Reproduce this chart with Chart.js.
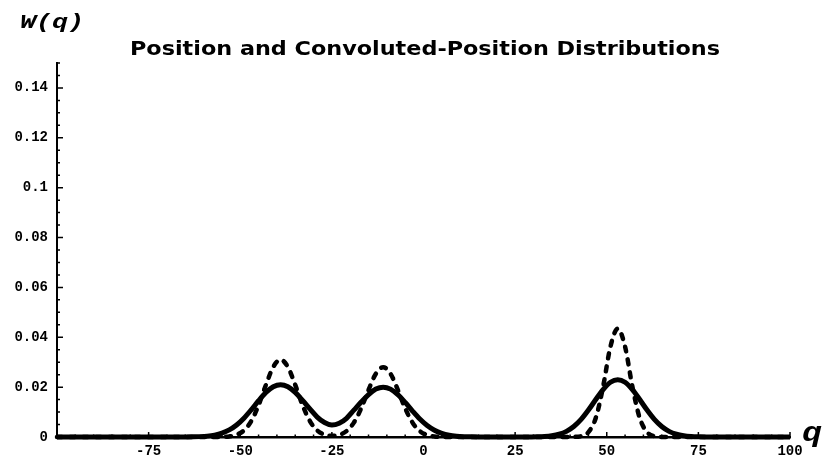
<!DOCTYPE html>
<html>
<head>
<meta charset="utf-8">
<script src="https://cdn.jsdelivr.net/npm/chart.js@4"></script>
<style>
  html, body { margin: 0; padding: 0; background: #fff; }
</style>
</head>
<body>
<canvas id="distChart" width="828" height="459"></canvas>
<script>
// sample positions q
var qValues = [
  -100, -90, -80, -70, -67, -65, -63, -61, -59, -57,
  -55, -53, -51, -49, -47, -45, -43, -41, -39, -37,
  -35, -33, -31, -29, -27, -25, -23, -21, -19, -17,
  -15, -13, -11, -9, -7, -5, -3, -1, 1, 3,
  5, 7, 9, 11, 13, 15, 17, 19, 21, 23,
  25, 27, 29, 31, 33, 35, 37, 39, 41, 43,
  45, 47, 49, 51, 53, 55, 57, 59, 61, 63,
  65, 67, 69, 71, 73, 75, 80, 90, 100
];

// position distribution W(q) (dashed)
var positionW = [
  0, 0, 0, 0, 0, 0, 0, 0, 0, 0.00001,
  0.00006, 0.00024, 0.00089, 0.00263, 0.00639, 0.01274, 0.02089, 0.02809, 0.031, 0.02809,
  0.02089, 0.01274, 0.00639, 0.00264, 0.00094, 0.00046, 0.00086, 0.00238, 0.00577, 0.01151,
  0.01887, 0.02537, 0.028, 0.02537, 0.01887, 0.01151, 0.00577, 0.00237, 0.0008, 0.00022,
  0.00005, 0.00001, 0, 0, 0, 0, 0, 0, 0, 0,
  0, 0, 0, 0, 0, 0, 0, 0, 0.00004, 0.00033,
  0.00194, 0.00761, 0.02015, 0.03621, 0.0435, 0.03621, 0.02015, 0.00761, 0.00194, 0.00033,
  0.00004, 0, 0, 0, 0, 0, 0, 0, 0
];

// convoluted-position distribution (solid)
var convolutedW = [
  0, 0, 0, 0, 0, 0.00002, 0.00006, 0.00015, 0.00035, 0.00077,
  0.00154, 0.00284, 0.00483, 0.00756, 0.01092, 0.01455, 0.01783, 0.02016, 0.021, 0.02018,
  0.01789, 0.01469, 0.01126, 0.0080, 0.0058, 0.0048, 0.0055, 0.0075, 0.01075, 0.01401,
  0.01704, 0.01922, 0.02, 0.0192, 0.01698, 0.01386, 0.0104, 0.0072, 0.0046, 0.0027,
  0.00147, 0.00073, 0.00034, 0.00014, 0.00006, 0.00002, 0, 0, 0, 0,
  0, 0.00001, 0.00003, 0.00007, 0.0002, 0.0005, 0.00111, 0.00226, 0.00419, 0.00704,
  0.01079, 0.01502, 0.01902, 0.02194, 0.023, 0.02194, 0.01902, 0.01502, 0.01079, 0.00704,
  0.00419, 0.00226, 0.00111, 0.0005, 0.0002, 0.00007, 0, 0, 0
];

var xTickValues = [-75, -50, -25, 0, 25, 50, 75, 100];
var yTickValues = [0, 0.02, 0.04, 0.06, 0.08, 0.1, 0.12, 0.14];

var chartTitle = 'Position and Convoluted-Position Distributions';
var yAxisLabel = 'W(q)';
var xAxisLabel = 'q';

function toPoints(ys) {
  return qValues.map(function (q, i) { return { x: q, y: ys[i] }; });
}

// draw text squeezed/stretched to a given width
function fitText(ctx, text, x, y, width) {
  var w = ctx.measureText(text).width;
  ctx.save();
  ctx.translate(x, y);
  ctx.scale(width / w, 1);
  ctx.fillText(text, 0, 0);
  ctx.restore();
}

// inward tick marks plus the title and axis labels
var axisDecor = {
  id: 'axisDecor',
  afterDraw: function (chart) {
    var ctx = chart.ctx;
    var xs = chart.scales.x, ys = chart.scales.y;
    var area = chart.chartArea;
    var v, p, len;

    ctx.save();
    ctx.strokeStyle = '#000';
    ctx.lineWidth = 1.5;
    ctx.beginPath();
    for (v = 0; v <= 30; v++) {
      p = ys.getPixelForValue(v * 0.005);
      len = v % 4 === 0 ? 6 : 3;
      ctx.moveTo(area.left, p);
      ctx.lineTo(area.left + len, p);
    }
    for (v = -20; v <= 20; v++) {
      p = xs.getPixelForValue(v * 5);
      len = v % 5 === 0 ? 5 : 2.5;
      ctx.moveTo(p, area.bottom);
      ctx.lineTo(p, area.bottom - len);
    }
    ctx.stroke();

    ctx.fillStyle = '#000';
    ctx.textBaseline = 'alphabetic';

    ctx.textAlign = 'center';
    ctx.font = 'bold 19px "DejaVu Sans", sans-serif';
    fitText(ctx, chartTitle, 425, 55, 590);

    ctx.textAlign = 'left';
    ctx.font = 'bold italic 21px "Liberation Mono", monospace';
    fitText(ctx, yAxisLabel, 20, 28, 64);

    ctx.font = 'bold italic 27px "Liberation Mono", monospace';
    fitText(ctx, xAxisLabel, 802, 441, 20);
    ctx.restore();
  }
};

var tickFont = { family: '"Liberation Mono", monospace', size: 14, weight: 'bold' };

var ctx = document.getElementById('distChart').getContext('2d');
var distChart = new Chart(ctx, {
  type: 'line',
  data: {
    datasets: [{
      data: toPoints(positionW),
      borderColor: '#000',
      borderWidth: 4.5,
      borderDash: [5, 8],
      borderCapStyle: 'round',
      pointRadius: 0,
      cubicInterpolationMode: 'monotone',
      clip: 6
    }, {
      data: toPoints(convolutedW),
      borderColor: '#000',
      borderWidth: 5,
      pointRadius: 0,
      cubicInterpolationMode: 'monotone',
      clip: 6
    }]
  },
  options: {
    responsive: false,
    animation: false,
    layout: { padding: { top: 63, right: 38, left: 0, bottom: 0 } },
    plugins: {
      legend: { display: false },
      tooltip: { enabled: false },
      title: { display: false }
    },
    scales: {
      x: {
        type: 'linear',
        min: -100,
        max: 100,
        afterBuildTicks: function (scale) {
          scale.ticks = xTickValues.map(function (v) { return { value: v }; });
        },
        afterFit: function (scale) { scale.height = 22; },
        grid: { display: false, drawTicks: false },
        border: { display: true, color: '#000', width: 2.5 },
        ticks: {
          color: '#000',
          font: tickFont,
          padding: 6,
          maxRotation: 0,
          autoSkip: false,
          callback: function (v) { return String(v); }
        }
      },
      y: {
        min: 0,
        max: 0.15,
        afterBuildTicks: function (scale) {
          scale.ticks = yTickValues.map(function (v) { return { value: v }; });
        },
        afterFit: function (scale) { scale.width = 57; },
        grid: { display: false, drawTicks: false },
        border: { display: true, color: '#000', width: 2 },
        ticks: {
          color: '#000',
          font: tickFont,
          padding: 9,
          callback: function (v) { return String(+v.toFixed(2)); }
        }
      }
    }
  },
  plugins: [axisDecor]
});
</script>
</body>
</html>
